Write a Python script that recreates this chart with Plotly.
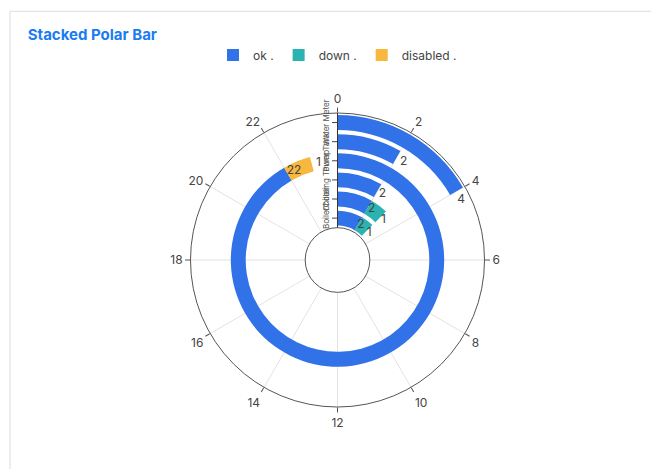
import plotly.graph_objects as go

categories = ["Boiler", "Chiller", "Cooling Tower", "Pump", "Tank", "Water Meter"]
ok = [2, 2, 2, 22, 2, 4]
down = [1, 1, 0, 0, 0, 0]
disabled = [0, 0, 0, 1, 0, 0]
angle_ticks = list(range(0, 24, 2))

series = [("ok .", ok, "#3272e8"), ("down .", down, "#2bb3b1"), ("disabled .", disabled, "#f8b73f")]
fig = go.Figure()
cum = [0] * len(categories)
for name, vals, col in series:
    th, w, r, b, idx = [], [], [], [], []
    for i, v in enumerate(vals):
        if v > 0:
            th.append((cum[i] + v / 2) * 15); w.append(v * 15)
            r.append(0.78); b.append(i + 0.11); idx.append(i)
    fig.add_trace(go.Barpolar(theta=th, width=w, r=r, base=b, name=name,
                              marker=dict(color=col, line=dict(width=0)),
                              hovertemplate=name + " %{theta}<extra></extra>"))
    # labels
    lt = [(cum[i] + vals[i]) * 15 + 4 for i in idx]
    fig.add_trace(go.Scatterpolar(theta=lt, r=[i + 0.5 for i in idx], mode="text",
                                  text=[str(vals[i]) for i in idx], showlegend=False,
                                  textfont=dict(size=12, color="#444"), hoverinfo="skip"))
    for i, v in enumerate(vals):
        cum[i] += v

fig.update_layout(
    width=659, height=469, paper_bgcolor="white", plot_bgcolor="white",
    margin=dict(l=0, r=0, t=0, b=0),
    title=dict(text="<b>Stacked Polar Bar</b>", x=0.03, y=0.955, font=dict(size=15, color="#1a7cf2", family="Inter")),
    legend=dict(orientation="h", x=0.5, xanchor="center", y=0.9, yanchor="middle", font=dict(size=12, color="#444")),
    font=dict(family="Inter", color="#555"),
    polar=dict(
        domain=dict(x=[0.2767, 0.7233], y=[0.1492, 0.7761]),
        hole=0.22, bgcolor="white", barmode="overlay",
        angularaxis=dict(rotation=90, direction="clockwise", tickvals=[t * 15 for t in angle_ticks],
                         ticktext=[str(t) for t in angle_ticks], linecolor="#555", gridcolor="#e3e3e3",
                         ticks="outside", ticklen=5, tickcolor="#555", tickfont=dict(size=12, color="#444")),
        radialaxis=dict(range=[0, 6], angle=90, tickangle=0, tickvals=[i + 0.5 for i in range(6)],
                        ticktext=categories, showgrid=False, linecolor="#333", ticks="outside", ticklen=5,
                        tickfont=dict(size=8, color="#555"), side="counterclockwise"),
    ),
    shapes=[dict(type="rect", xref="paper", yref="paper", x0=0.003, x1=0.997, y0=0.004, y1=0.993,
                 line=dict(color="#dcdcdc", width=1), layer="below")],
)
fig.write_html("out.html")
